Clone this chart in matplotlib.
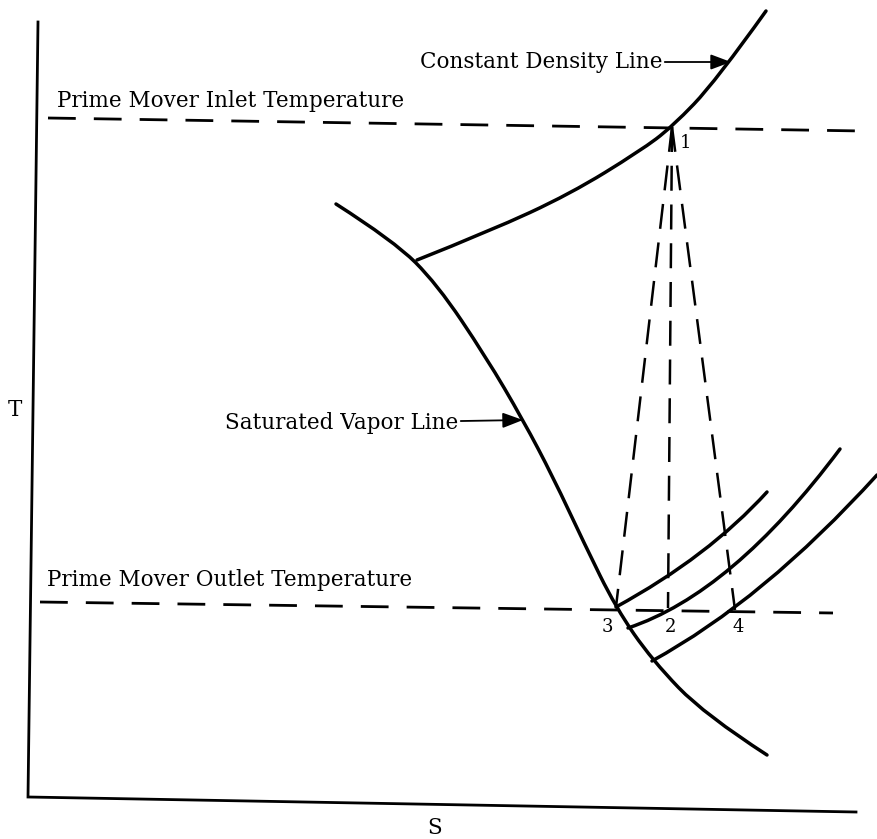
import matplotlib.pyplot as plt
from matplotlib.path import Path
from matplotlib.patches import PathPatch

# T-S diagram sketch, coordinates (pixel units, y down)
sat_s = [336, 394, 437, 486, 523, 553, 584, 616, 652, 705, 767]
sat_t = [204, 241, 284, 357, 420, 477, 543, 608, 660, 715, 755]

dens_s = [417, 490, 570, 640, 672, 716, 766]
dens_t = [260, 231, 194, 151, 127, 81, 11]

# constant pressure lines (start, a point near the middle, end)
pa_s = [616, 700, 767]
pa_t = [607, 553, 492]

pb_s = [628, 733, 840]
pb_t = [628, 566, 449]

pc_s = [652, 764, 877]
pc_t = [661, 584, 475]

inlet_s = [48, 863]
inlet_t = [118, 131]
outlet_s = [40, 833]
outlet_t = [602, 613]

# state points 1..4
pt_labels = ['1', '2', '3', '4']
pt_s = [672, 668, 616, 735]
pt_t = [127, 608, 607, 610]

axis_s = [38, 28, 856]
axis_t = [22, 797, 812]


def draw_path(ax, verts, codes, lw):
    ax.add_patch(PathPatch(Path(verts, codes), facecolor='none', edgecolor='black',
                           lw=lw, capstyle='round', joinstyle='round'))


def bspline_curve(ax, xs, ys, lw):
    # quadratic b-spline with the read points as control polygon
    verts = [(xs[0], ys[0])]
    codes = [Path.MOVETO]
    for i in range(1, len(xs) - 1):
        end = ((xs[i] + xs[i + 1]) / 2, (ys[i] + ys[i + 1]) / 2)
        if i == len(xs) - 2:
            end = (xs[-1], ys[-1])
        verts += [(xs[i], ys[i]), end]
        codes += [Path.CURVE3, Path.CURVE3]
    draw_path(ax, verts, codes, lw)


def arc_through(ax, xs, ys, lw):
    # one quadratic bezier through start, middle point (at t=0.5) and end
    cx = 2 * xs[1] - (xs[0] + xs[2]) / 2
    cy = 2 * ys[1] - (ys[0] + ys[2]) / 2
    draw_path(ax, [(xs[0], ys[0]), (cx, cy), (xs[2], ys[2])],
              [Path.MOVETO, Path.CURVE3, Path.CURVE3], lw)


fig = plt.figure(figsize=(8.77, 8.39), dpi=100)
ax = fig.add_axes([0, 0, 1, 1])
ax.set_xlim(0, 877)
ax.set_ylim(839, 0)
ax.axis('off')

font = 'DejaVu Serif'
fs = 15.5
lw = 2.5

ax.plot(axis_s, axis_t, color='black', lw=2.0, solid_joinstyle='miter')

bspline_curve(ax, sat_s, sat_t, lw)
bspline_curve(ax, dens_s, dens_t, lw)
arc_through(ax, pa_s, pa_t, lw)
arc_through(ax, pb_s, pb_t, lw)
arc_through(ax, pc_s, pc_t, lw)

ax.plot(inlet_s, inlet_t, color='black', lw=2.0, linestyle=(0, (10, 6.5)))
ax.plot(outlet_s, outlet_t, color='black', lw=2.0, linestyle=(0, (10, 6.5)))

# expansion lines from state 1 to 3, 2, 4
for i in [1, 2, 3]:
    ax.plot([pt_s[0], pt_s[i]], [pt_t[0], pt_t[i]], color='black', lw=1.8, linestyle=(0, (10, 5.5)))

ax.text(57, 101, 'Prime Mover Inlet Temperature', fontsize=fs, family=font, va='center', ha='left')
ax.text(47, 580, 'Prime Mover Outlet Temperature', fontsize=fs, family=font, va='center', ha='left')
ax.text(15, 410, 'T', fontsize=fs, family=font, va='center', ha='center')
ax.text(435, 828, 'S', fontsize=fs, family=font, va='center', ha='center')

ax.annotate('Constant Density Line', xy=(731, 62), xytext=(662, 62), fontsize=fs, family=font,
            va='center', ha='right',
            arrowprops=dict(arrowstyle='-|>,head_length=0.8,head_width=0.3', color='black', lw=1.3,
                            shrinkA=0, shrinkB=0))
ax.annotate('Saturated Vapor Line', xy=(523, 420), xytext=(458, 423), fontsize=fs, family=font,
            va='center', ha='right',
            arrowprops=dict(arrowstyle='-|>,head_length=0.8,head_width=0.3', color='black', lw=1.3,
                            shrinkA=0, shrinkB=0))

# point numbers
label_pos = {'1': (686, 143), '2': (670, 627), '3': (607, 627), '4': (738, 627)}
for lab in pt_labels:
    x, y = label_pos[lab]
    ax.text(x, y, lab, fontsize=13, family=font, va='center', ha='center')

fig.savefig('out.png', dpi=100)
